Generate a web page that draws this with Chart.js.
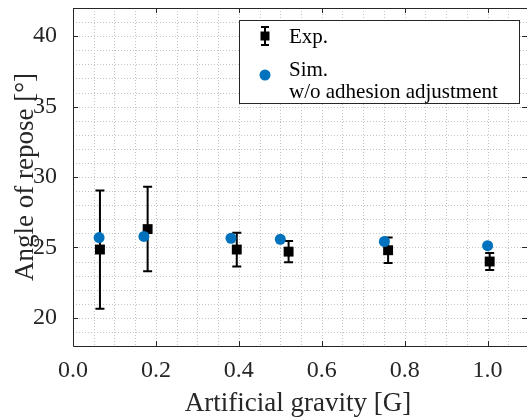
<!DOCTYPE html>
<html>
<head>
    <meta charset="UTF-8">
    <title>Angle of repose</title>
    <style>
        body {
            margin: 0;
            padding: 0;
            background-color: #fff;
        }
        canvas {
            display: block;
        }
    </style>
</head>
<body>
    <canvas id="myChart" width="527" height="418"></canvas>

    <script src="https://cdn.jsdelivr.net/npm/chart.js"></script>
    <script>
        // Datos
        var expGravity = [0.065, 0.18, 0.395, 0.52, 0.76, 1.005];
        var expAngle = [24.85, 26.3, 24.85, 24.7, 24.8, 24.0];
        var expError = [4.2, 3.0, 1.2, 0.75, 0.9, 0.6];

        var simGravity = [0.063, 0.171, 0.381, 0.5, 0.751, 1.0];
        var simAngle = [25.7, 25.78, 25.65, 25.58, 25.42, 25.12];

        var xTickLabels = ['0.0', '0.2', '0.4', '0.6', '0.8', '1.0'];
        var yTickLabels = ['20', '25', '30', '35', '40'];

        var xTitle = 'Artificial gravity [G]';
        var yTitle = 'Angle of repose [°]';
        var legendExp = ['Exp.'];
        var legendSim = ['Sim.', 'w/o adhesion adjustment'];

        var serif = '"Liberation Serif", "Times New Roman", serif';
        var axisColor = '#262626';
        var blue = '#0072BD';

        function toPoints(xs, ys) {
            return xs.map(function(x, i) { return { x: x, y: ys[i] }; });
        }

        function isMajor(value, list) {
            return list.some(function(t) { return Math.abs(parseFloat(t) - value) < 1e-6; });
        }

        // rejilla punteada y barras de error
        var underlay = {
            id: 'underlay',
            beforeDatasetsDraw: function(chart) {
                var ctx = chart.ctx;
                var a = chart.chartArea;
                var xs = chart.scales.x, ys = chart.scales.y;
                ctx.save();
                ctx.strokeStyle = '#c4c4c4';
                ctx.lineWidth = 1;
                ctx.setLineDash([1, 2]);
                ctx.beginPath();
                xs.ticks.forEach(function(t) {
                    var px = Math.round(xs.getPixelForValue(t.value)) + 0.5;
                    ctx.moveTo(px, a.top); ctx.lineTo(px, a.bottom);
                });
                ys.ticks.forEach(function(t) {
                    var py = Math.round(ys.getPixelForValue(t.value)) + 0.5;
                    ctx.moveTo(a.left, py); ctx.lineTo(a.right, py);
                });
                ctx.stroke();
                ctx.setLineDash([]);

                ctx.strokeStyle = '#000';
                ctx.lineWidth = 2;
                expGravity.forEach(function(g, i) {
                    var px = xs.getPixelForValue(g);
                    var top = ys.getPixelForValue(expAngle[i] + expError[i]);
                    var bot = ys.getPixelForValue(expAngle[i] - expError[i]);
                    ctx.beginPath();
                    ctx.moveTo(px, top); ctx.lineTo(px, bot);
                    ctx.moveTo(px - 4.5, top); ctx.lineTo(px + 4.5, top);
                    ctx.moveTo(px - 4.5, bot); ctx.lineTo(px + 4.5, bot);
                    ctx.stroke();
                });
                ctx.restore();
            }
        };

        // marco, marcas interiores, titulos y leyenda
        var frame = {
            id: 'frame',
            afterDraw: function(chart) {
                var ctx = chart.ctx;
                var a = chart.chartArea;
                var xs = chart.scales.x, ys = chart.scales.y;
                ctx.save();
                ctx.strokeStyle = axisColor;
                ctx.lineWidth = 1;
                ctx.beginPath();
                ctx.moveTo(a.left + 0.5, a.top + 0.5);
                ctx.lineTo(a.right + 0.5, a.top + 0.5);
                ctx.lineTo(a.right + 0.5, a.bottom + 0.5);
                ctx.lineTo(a.left + 0.5, a.bottom + 0.5);
                ctx.closePath();
                ctx.stroke();

                ctx.beginPath();
                xTickLabels.forEach(function(t) {
                    var px = Math.round(xs.getPixelForValue(parseFloat(t))) + 0.5;
                    ctx.moveTo(px, a.bottom); ctx.lineTo(px, a.bottom - 5);
                    ctx.moveTo(px, a.top); ctx.lineTo(px, a.top + 5);
                });
                yTickLabels.forEach(function(t) {
                    var py = Math.round(ys.getPixelForValue(parseFloat(t))) + 0.5;
                    ctx.moveTo(a.left, py); ctx.lineTo(a.left + 5, py);
                    ctx.moveTo(a.right, py); ctx.lineTo(a.right - 5, py);
                });
                ctx.stroke();

                // titulos de los ejes
                ctx.fillStyle = axisColor;
                ctx.font = '27px ' + serif;
                ctx.textAlign = 'center';
                ctx.textBaseline = 'alphabetic';
                ctx.fillText(xTitle, 298, 411);
                ctx.save();
                ctx.translate(33, (a.top + a.bottom) / 2);
                ctx.rotate(-Math.PI / 2);
                ctx.fillText(yTitle, 0, 0);
                ctx.restore();

                // leyenda
                var bx = 239.5, by = 20.5, bw = 280, bh = 83;
                ctx.fillStyle = '#fff';
                ctx.fillRect(bx, by, bw, bh);
                ctx.strokeStyle = axisColor;
                ctx.strokeRect(bx, by, bw, bh);

                ctx.strokeStyle = '#000';
                ctx.lineWidth = 2;
                ctx.beginPath();
                ctx.moveTo(265, 27); ctx.lineTo(265, 45);
                ctx.moveTo(261, 27); ctx.lineTo(269, 27);
                ctx.moveTo(261, 45); ctx.lineTo(269, 45);
                ctx.stroke();
                ctx.fillStyle = '#000';
                ctx.fillRect(260.5, 31.5, 9, 9);

                ctx.fillStyle = blue;
                ctx.beginPath();
                ctx.arc(265, 75, 5.5, 0, Math.PI * 2);
                ctx.fill();

                ctx.fillStyle = '#000';
                ctx.font = '21px ' + serif;
                ctx.textAlign = 'left';
                ctx.fillText(legendExp[0], 289, 43);
                ctx.fillText(legendSim[0], 289, 76);
                ctx.fillText(legendSim[1], 289, 97.5);
                ctx.restore();
            }
        };

        var ctx = document.getElementById('myChart').getContext('2d');
        var chart = new Chart(ctx, {
            type: 'scatter',
            data: {
                datasets: [{
                    label: legendExp[0],
                    data: toPoints(expGravity, expAngle),
                    pointStyle: 'rect',
                    pointRadius: 7,
                    backgroundColor: '#000',
                    borderColor: '#000',
                    borderWidth: 0,
                    order: 1
                }, {
                    label: legendSim.join(' '),
                    data: toPoints(simGravity, simAngle),
                    pointStyle: 'circle',
                    pointRadius: 5.5,
                    backgroundColor: blue,
                    borderColor: blue,
                    borderWidth: 0,
                    order: 0
                }]
            },
            options: {
                responsive: false,
                animation: false,
                devicePixelRatio: 1,
                layout: {
                    autoPadding: false,
                    padding: { top: 8, right: 0, left: 0, bottom: 0 }
                },
                plugins: {
                    legend: { display: false },
                    tooltip: { enabled: false }
                },
                scales: {
                    x: {
                        type: 'linear',
                        min: 0,
                        max: 1.095,
                        afterFit: function(s) {
                            s.height = 72;
                            s.paddingLeft = 0; s.paddingRight = 0;
                        },
                        afterBuildTicks: function(s) {
                            var t = [];
                            for (var i = 0; i <= 21; i++) t.push({ value: i * 0.05 });
                            s.ticks = t;
                        },
                        grid: { display: false },
                        border: { display: false },
                        ticks: {
                            autoSkip: false,
                            maxRotation: 0,
                            padding: 2,
                            color: axisColor,
                            font: { family: serif, size: 24 },
                            callback: function(v) {
                                return isMajor(v, xTickLabels) ? v.toFixed(1) : '';
                            }
                        }
                    },
                    y: {
                        type: 'linear',
                        min: 18,
                        max: 42,
                        afterFit: function(s) {
                            s.width = 73;
                            s.paddingTop = 0; s.paddingBottom = 0;
                        },
                        afterBuildTicks: function(s) {
                            var t = [];
                            for (var v = 18; v <= 42; v++) t.push({ value: v });
                            s.ticks = t;
                        },
                        grid: { display: false },
                        border: { display: false },
                        ticks: {
                            autoSkip: false,
                            padding: 8,
                            color: axisColor,
                            font: { family: serif, size: 24 },
                            callback: function(v) {
                                return isMajor(v, yTickLabels) ? String(v) : '';
                            }
                        }
                    }
                }
            },
            plugins: [underlay, frame]
        });
    </script>
</body>
</html>
